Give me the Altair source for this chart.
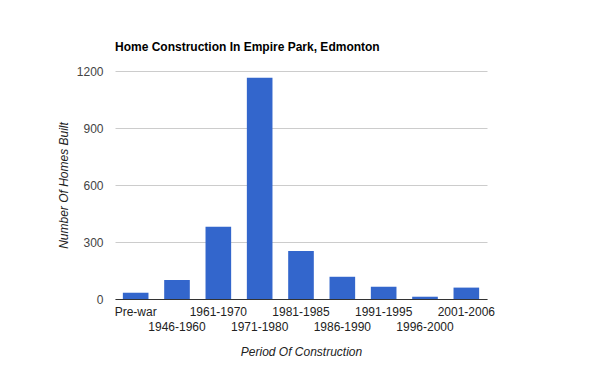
import altair as alt
import pandas as pd

periods = ["Pre-war", "1946-1960", "1961-1970", "1971-1980", "1981-1985",
           "1986-1990", "1991-1995", "1996-2000", "2001-2006"]
homes = [33, 100, 380, 1165, 253, 117, 65, 12, 60]

df = pd.DataFrame({"period": periods, "homes": homes})

FONT = "Liberation Sans"

chart = alt.Chart(df).mark_bar(color="#3366cc").encode(
    x=alt.X("period:N", sort=periods,
            scale=alt.Scale(paddingInner=0.38, paddingOuter=0.19),
            axis=alt.Axis(title="Period Of Construction", labelAngle=0,
                          labelExpr="round(datum.index*8) % 2 == 1 ? ['', datum.label] : datum.label",
                          labelLineHeight=15, labelOverlap=False, labelBound=False,
                          labelFlush=False, ticks=False, labelPadding=7,
                          domainColor="#333333", labelFont=FONT, labelFontSize=12,
                          labelColor="#222222", titleFont=FONT, titleFontSize=12,
                          titleFontStyle="italic", titleFontWeight="normal",
                          titleColor="#222222", titlePadding=14)),
    y=alt.Y("homes:Q", scale=alt.Scale(domain=[0, 1200]),
            axis=alt.Axis(title="Number Of Homes Built", values=[0, 300, 600, 900, 1200],
                          format="d",
                          ticks=False, domain=False, gridColor="#cccccc",
                          labelFont=FONT, labelFontSize=12, labelColor="#444444",
                          labelPadding=12, titleFont=FONT, titleFontSize=12,
                          titleFontStyle="italic", titleFontWeight="normal",
                          titleColor="#222222", titlePadding=6)),
).properties(
    width=372, height=228,
    title=alt.TitleParams("Home Construction In Empire Park, Edmonton", anchor="start",
                          frame="group", font=FONT, fontSize=12, fontWeight="bold",
                          color="#000000", offset=11),
    autosize=alt.AutoSizeParams(type="none"),
    padding={"left": 107, "top": 63, "right": 105, "bottom": 64},
).configure_view(stroke=None)

chart.save("out.html", embed_options={"renderer": "svg", "actions": False})
